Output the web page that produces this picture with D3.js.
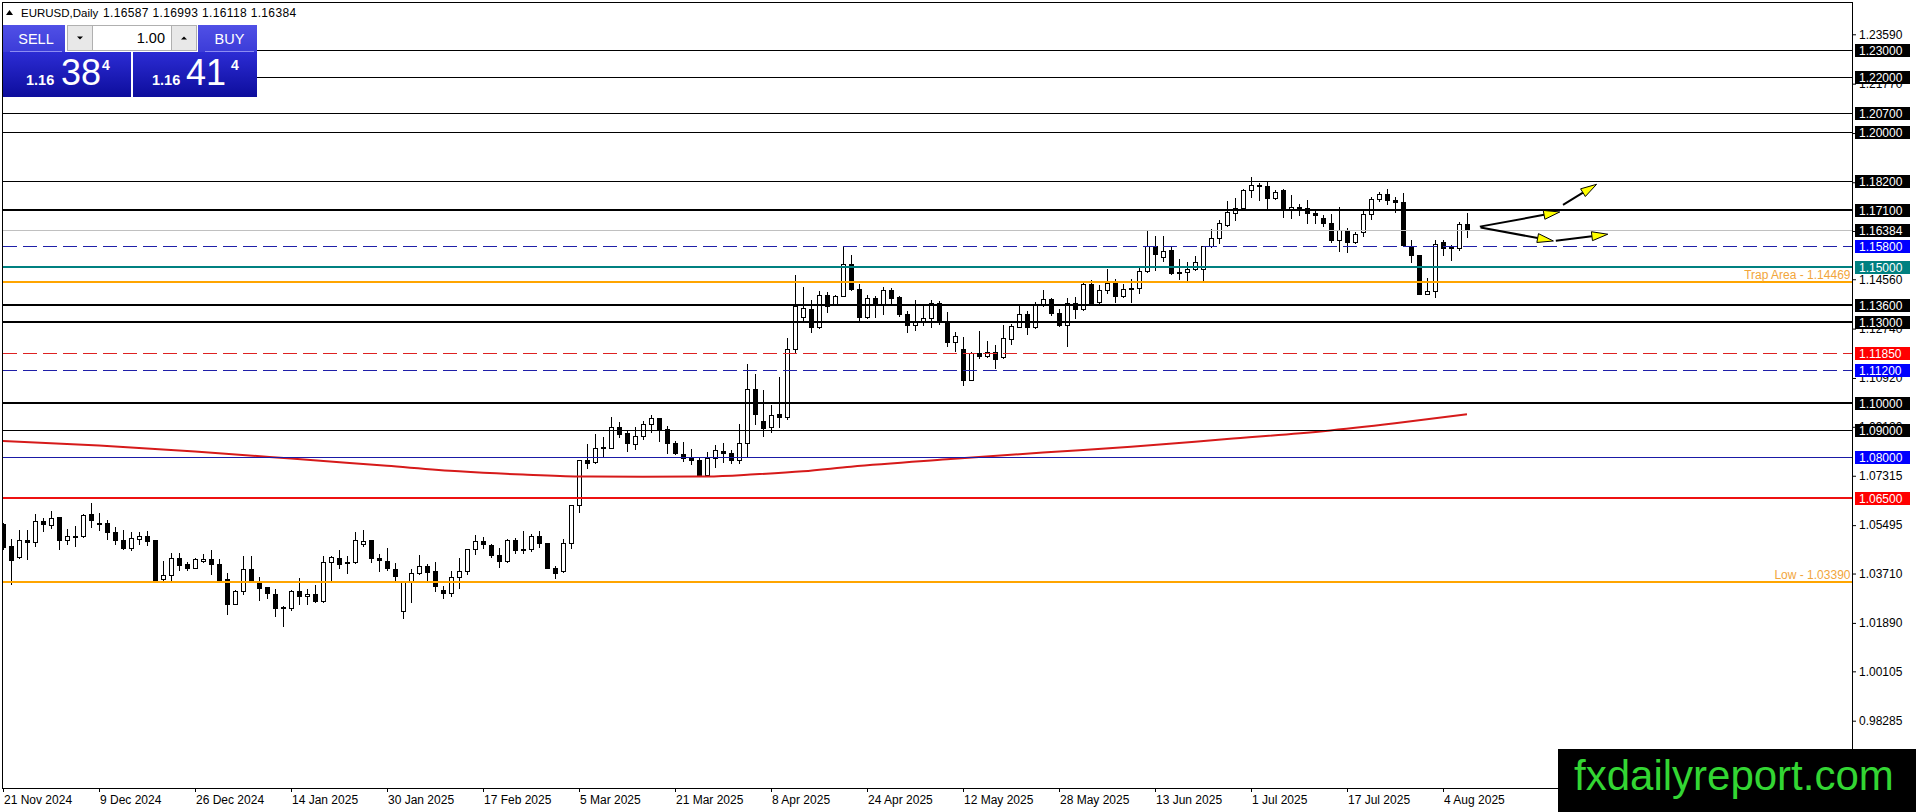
<!DOCTYPE html>
<html>
<head>
<meta charset="utf-8">
<script src="https://cdn.jsdelivr.net/npm/d3@7"></script>
<style>
  body { margin: 0; background: #fff; overflow: hidden; }
  svg { display: block; font-family: "Liberation Sans", Arial, sans-serif; }
</style>
</head>
<body>
<svg id="chart" width="1916" height="812"></svg>
<script>
// EURUSD daily candles, 21 Nov 2024 .. 7 Aug 2025 (bar index 0..183)
const opens = [
  1.0554,1.0474,1.0431,1.0496,1.0487,1.0566,1.0550,1.0579,1.0495,1.0509,
  1.0509,1.0589,1.0559,1.0557,1.0526,1.0495,1.0466,1.0499,1.0511,1.0493,
  1.0350,1.0366,1.0429,1.0407,1.0392,1.0419,1.0426,1.0407,1.0351,1.0259,
  1.0308,1.0388,1.0335,1.0321,1.0296,1.0244,1.0244,1.0308,1.0290,1.0296,
  1.0269,1.0415,1.0429,1.0409,1.0413,1.0480,1.0493,1.0430,1.0419,1.0388,
  1.0232,1.0343,1.0373,1.0398,1.0380,1.0310,1.0300,1.0357,1.0380,1.0460,
  1.0490,1.0478,1.0441,1.0419,1.0496,1.0463,1.0463,1.0511,1.0482,1.0392,
  1.0380,1.0482,1.0623,1.0789,1.0781,1.0838,1.0834,1.0913,1.0888,1.0849,
  1.0879,1.0922,1.0944,1.0904,1.0851,1.0812,1.0799,1.0790,1.0734,1.0797,
  1.0824,1.0815,1.0790,1.0852,1.1051,1.0935,1.0913,1.0959,1.0949,1.1199,
  1.1318,1.1346,1.1279,1.1398,1.1362,1.1396,1.1512,1.1420,1.1316,1.1387,
  1.1362,1.1418,1.1389,1.1328,1.1287,1.1301,1.1312,1.1369,1.1297,1.1223,
  1.1199,1.1085,1.1184,1.1172,1.1187,1.1168,1.1236,1.1281,1.1328,1.1279,
  1.1362,1.1383,1.1332,1.1289,1.1369,1.1346,1.1439,1.1371,1.1416,1.1442,
  1.1393,1.1425,1.1424,1.1488,1.1580,1.1537,1.1562,1.1479,1.1482,1.1494,
  1.1494,1.1577,1.1609,1.1657,1.1701,1.1719,1.1786,1.1805,1.1798,1.1756,
  1.1786,1.1712,1.1720,1.1719,1.1701,1.1681,1.1664,1.1599,1.1639,1.1593,
  1.1630,1.1695,1.1752,1.1771,1.1749,1.1740,1.1580,1.1546,1.1402,1.1414,
  1.1593,1.1577,1.1572,1.16587
];
const highs = [
  1.0557,1.0499,1.0530,1.0530,1.0591,1.0575,1.0600,1.0579,1.0536,1.0546,
  1.0591,1.0630,1.0595,1.0569,1.0542,1.0532,1.0526,1.0523,1.0527,1.0495,
  1.0419,1.0446,1.0446,1.0413,1.0428,1.0443,1.0458,1.0425,1.0372,1.0311,
  1.0434,1.0434,1.0357,1.0323,1.0313,1.0250,1.0311,1.0355,1.0313,1.0330,
  1.0434,1.0437,1.0458,1.0434,1.0523,1.0533,1.0495,1.0443,1.0464,1.0410,
  1.0343,1.0386,1.0441,1.0407,1.0413,1.0324,1.0380,1.0429,1.0463,1.0512,
  1.0505,1.0480,1.0466,1.0500,1.0503,1.0527,1.0515,1.0527,1.0484,1.0398,
  1.0500,1.0625,1.0790,1.0849,1.0886,1.0876,1.0949,1.0929,1.0898,1.0910,
  1.0932,1.0957,1.0946,1.0916,1.0861,1.0855,1.0830,1.0799,1.0818,1.0845,
  1.0851,1.0827,1.0922,1.1144,1.1107,1.1048,1.0994,1.1097,1.1239,1.1473,
  1.1426,1.1381,1.1414,1.1410,1.1398,1.1574,1.1545,1.1439,1.1398,1.1393,
  1.1426,1.1423,1.1393,1.1340,1.1381,1.1365,1.1381,1.1377,1.1337,1.1263,
  1.1242,1.1187,1.1266,1.1230,1.1214,1.1287,1.1291,1.1359,1.1340,1.1373,
  1.1418,1.1385,1.1346,1.1386,1.1392,1.1442,1.1455,1.1435,1.1494,1.1457,
  1.1439,1.1457,1.1500,1.1632,1.1617,1.1617,1.1580,1.1531,1.1519,1.1543,
  1.1580,1.1642,1.1673,1.1746,1.1756,1.1789,1.1832,1.1810,1.1814,1.1786,
  1.1789,1.1765,1.1734,1.1749,1.1707,1.1691,1.1697,1.1724,1.1644,1.1630,
  1.1716,1.1761,1.1777,1.1789,1.1761,1.1773,1.1599,1.1547,1.1461,1.1599,
  1.1599,1.1584,1.1666,1.16993
];
const lows = [
  1.0462,1.0333,1.0428,1.0424,1.0474,1.0527,1.0539,1.0461,1.0480,1.0474,
  1.0505,1.0542,1.0532,1.0498,1.0480,1.0461,1.0456,1.0480,1.0478,1.0345,
  1.0345,1.0345,1.0384,1.0384,1.0391,1.0413,1.0370,1.0343,1.0222,1.0257,
  1.0296,1.0339,1.0274,1.0281,1.0214,1.0178,1.0237,1.0259,1.0259,1.0265,
  1.0267,1.0345,1.0391,1.0373,1.0411,1.0474,1.0413,1.0382,1.0384,1.0349,
  1.0208,1.0267,1.0370,1.0349,1.0306,1.0281,1.0290,1.0316,1.0370,1.0444,
  1.0466,1.0431,1.0396,1.0414,1.0447,1.0447,1.0453,1.0468,1.0390,1.0355,
  1.0378,1.0466,1.0598,1.0761,1.0779,1.0802,1.0832,1.0873,1.0824,1.0830,
  1.0867,1.0892,1.0858,1.0814,1.0812,1.0785,1.0775,1.0730,1.0732,1.0763,
  1.0781,1.0779,1.0777,1.0806,1.0922,1.0879,1.0892,1.0910,1.0941,1.1187,
  1.1297,1.1263,1.1277,1.1334,1.1360,1.1394,1.1418,1.1303,1.1312,1.1316,
  1.1328,1.1369,1.1319,1.1263,1.1270,1.1289,1.1279,1.1291,1.1209,1.1193,
  1.1066,1.1083,1.1166,1.1168,1.1128,1.1166,1.1217,1.1279,1.1254,1.1276,
  1.1359,1.1324,1.1285,1.1209,1.1312,1.1344,1.1365,1.1361,1.1404,1.1371,
  1.1389,1.1371,1.1404,1.1484,1.1491,1.1525,1.1476,1.1457,1.1454,1.1491,
  1.1454,1.1574,1.1589,1.1652,1.1676,1.1712,1.1759,1.1749,1.1719,1.1751,
  1.1685,1.1682,1.1691,1.1664,1.1664,1.1654,1.1593,1.1559,1.1556,1.1590,
  1.1617,1.1679,1.1746,1.1734,1.1703,1.1580,1.1519,1.1400,1.1400,1.1390,
  1.1547,1.1527,1.1564,1.16118
];
const closes = [
  1.0468,1.0422,1.0495,1.0488,1.0566,1.0554,1.0576,1.0493,1.0511,1.0511,
  1.0587,1.0569,1.0554,1.0523,1.0493,1.0464,1.0503,1.0511,1.0490,1.0348,
  1.0366,1.0429,1.0403,1.0392,1.0423,1.0426,1.0407,1.0348,1.0259,1.0308,
  1.0388,1.0345,1.0318,1.0300,1.0244,1.0247,1.0308,1.0287,1.0296,1.0269,
  1.0415,1.0431,1.0407,1.0415,1.0493,1.0491,1.0428,1.0422,1.0391,1.0362,
  1.0340,1.0373,1.0398,1.0377,1.0324,1.0300,1.0357,1.0380,1.0460,1.0490,
  1.0480,1.0441,1.0419,1.0496,1.0456,1.0460,1.0511,1.0484,1.0392,1.0373,
  1.0482,1.0623,1.0788,1.0779,1.0832,1.0833,1.0913,1.0886,1.0851,1.0879,
  1.0922,1.0944,1.0902,1.0851,1.0815,1.0797,1.0790,1.0732,1.0797,1.0827,
  1.0814,1.0790,1.0852,1.1051,1.0959,1.0908,1.0956,1.0949,1.1199,1.1359,
  1.1350,1.1279,1.1398,1.1359,1.1396,1.1512,1.1420,1.1316,1.1387,1.1362,
  1.1418,1.1386,1.1328,1.1289,1.1297,1.1313,1.1369,1.1301,1.1223,1.1248,
  1.1085,1.1184,1.1172,1.1187,1.1162,1.1238,1.1285,1.1328,1.1279,1.1362,
  1.1383,1.1330,1.1289,1.1367,1.1346,1.1439,1.1367,1.1416,1.1442,1.1393,
  1.1420,1.1421,1.1488,1.1580,1.1549,1.1561,1.1478,1.1482,1.1494,1.1521,
  1.1577,1.1609,1.1663,1.1703,1.1719,1.1786,1.1805,1.1798,1.1756,1.1779,
  1.1712,1.1722,1.1724,1.1701,1.1691,1.1663,1.1599,1.1638,1.1593,1.1623,
  1.1695,1.1752,1.1771,1.1749,1.1740,1.1584,1.1546,1.1402,1.1414,1.1587,
  1.1572,1.1572,1.1660,1.16384
];

// moving average (bar index, value)
const maBars   = [0, 12, 24, 36, 48, 57, 65, 72, 80, 88, 94, 100, 106, 118, 130, 141, 153, 165, 174, 183];
const maValues = [1.0860, 1.0843, 1.0821, 1.0795, 1.0768, 1.0748, 1.0736, 1.0729, 1.0728, 1.0729,
                  1.0737, 1.0748, 1.0765, 1.0792, 1.0817, 1.0838, 1.0867, 1.0896, 1.0925, 1.0958];

// date labels every 12 bars
const dateLabels = ["21 Nov 2024", "9 Dec 2024", "26 Dec 2024", "14 Jan 2025", "30 Jan 2025", "17 Feb 2025",
  "5 Mar 2025", "21 Mar 2025", "8 Apr 2025", "24 Apr 2025", "12 May 2025", "28 May 2025",
  "13 Jun 2025", "1 Jul 2025", "17 Jul 2025", "4 Aug 2025"];
const dateBars = [0, 12, 24, 36, 48, 60, 72, 84, 96, 108, 120, 132, 144, 156, 168, 180];

// price scale tick labels
const priceTicks = [1.23590, 1.21770, 1.19950, 1.18135, 1.16340, 1.14560, 1.12740, 1.10920,
  1.09120, 1.07315, 1.05495, 1.03710, 1.01890, 1.00105, 0.98285];

// horizontal levels
const levelPrices = [1.23, 1.22, 1.207, 1.20, 1.182, 1.171, 1.16384, 1.158, 1.15, 1.14469,
  1.136, 1.13, 1.1185, 1.112, 1.10, 1.09, 1.08, 1.065, 1.0339];
const levelKinds = ["thin", "thin", "thin", "thin", "thin", "thick", "bid", "blueDash", "teal", "trap",
  "thick", "thick", "redDash", "blueDash", "thick", "thin", "blue", "red", "low"];
const levelNotes = ["", "", "", "", "", "", "", "", "", "Trap Area - 1.14469",
  "", "", "", "", "", "", "", "", "Low - 1.03390"];

// trend arrows [fromBar, fromPrice] -> [toBar, toPrice]
const arrowFrom = [[184.6, 1.1650], [195.0, 1.1730], [184.7, 1.1647], [194.1, 1.1598]];
const arrowTo   = [[194.6, 1.1704], [199.2, 1.1806], [193.8, 1.1597], [200.6, 1.1622]];

const header = {symbol: "EURUSD,Daily", ohlc: "1.16587 1.16993 1.16118 1.16384"};
const sellQuote = ["1.16", "38", "4"];
const buyQuote  = ["1.16", "41", "4"];
const lotSize = "1.00";

// ---------------------------------------------------------------
const levelStyle = {
  thin:     {stroke: "#000",    width: 1, dash: null,   box: "#000"},
  thick:    {stroke: "#000",    width: 2, dash: null,   box: "#000"},
  bid:      {stroke: "#c0c0c0", width: 1, dash: null,   box: "#000"},
  blueDash: {stroke: "#1f1fa8", width: 1, dash: "14,6", box: "#0000ff"},
  teal:     {stroke: "#008080", width: 2, dash: null,   box: "#008080"},
  trap:     {stroke: "#ffa500", width: 2, dash: null,   box: null},
  redDash:  {stroke: "#dd2222", width: 1, dash: "14,6", box: "#ff0000"},
  blue:     {stroke: "#1a1aa6", width: 1, dash: null,   box: "#0000ff"},
  red:      {stroke: "#ee1111", width: 2, dash: null,   box: "#ff0000"},
  low:      {stroke: "#ffa500", width: 2, dash: null,   box: null}
};

const plotLeft = 2.5, plotTop = 2.5, plotRight = 1852.5, plotBottom = 788.5;

let svg = d3.select("#chart");

let x = d3.scaleLinear().domain([0, 100]).range([3, 803]);       // 8 px per bar
let y = d3.scaleLinear().domain([1.23, 0.98285]).range([50.3, 720.7]);

svg.append("defs").append("clipPath").attr("id", "plotClip")
  .append("rect").attr("x", plotLeft).attr("y", plotTop)
  .attr("width", plotRight - plotLeft).attr("height", plotBottom - plotTop);

let plot = svg.append("g").attr("clip-path", "url(#plotClip)");

// candles
let candles = d3.range(opens.length).map(i => ({i: i, o: opens[i], h: highs[i], l: lows[i], c: closes[i]}));
let cg = plot.append("g").attr("shape-rendering", "crispEdges");
let bar = cg.selectAll("g").data(candles).join("g");
bar.append("line")
  .attr("x1", d => Math.round(x(d.i)) + 0.5)
  .attr("x2", d => Math.round(x(d.i)) + 0.5)
  .attr("y1", d => Math.round(y(d.h)))
  .attr("y2", d => Math.round(y(d.l)) + 1)
  .attr("stroke", "#000");
bar.append("rect")
  .attr("x", d => Math.round(x(d.i)) - 1.5)
  .attr("y", d => Math.round(y(Math.max(d.o, d.c))) + 0.5)
  .attr("width", 4)
  .attr("height", d => Math.max(1, Math.round(y(Math.min(d.o, d.c))) - Math.round(y(Math.max(d.o, d.c)))))
  .attr("fill", d => d.c >= d.o ? "#fff" : "#000")
  .attr("stroke", "#000");

// moving average
let maData = maBars.map((b, k) => ({b: b, v: maValues[k]}));
plot.append("path")
  .datum(maData)
  .attr("fill", "none")
  .attr("stroke", "#d61a1a")
  .attr("stroke-width", 2)
  .attr("d", d3.line().x(d => x(d.b)).y(d => y(d.v)).curve(d3.curveMonotoneX));

// horizontal levels
let levels = levelPrices.map((p, k) => ({p: p, kind: levelKinds[k], note: levelNotes[k]}));
let lineY = d => {
  let s = levelStyle[d.kind];
  return s.width % 2 === 1 ? Math.round(y(d.p)) + 0.5 : Math.round(y(d.p));
};
plot.append("g").attr("shape-rendering", "crispEdges")
  .selectAll("line").data(levels).join("line")
  .attr("x1", plotLeft).attr("x2", plotRight)
  .attr("y1", lineY).attr("y2", lineY)
  .attr("stroke", d => levelStyle[d.kind].stroke)
  .attr("stroke-width", d => levelStyle[d.kind].width)
  .attr("stroke-dasharray", d => levelStyle[d.kind].dash);

plot.append("g")
  .selectAll("text").data(levels.filter(d => d.note)).join("text")
  .attr("x", plotRight - 2)
  .attr("y", d => Math.round(y(d.p)) - 3)
  .attr("text-anchor", "end")
  .attr("font-size", 12)
  .attr("fill", "#f2a53a")
  .text(d => d.note);

// arrows
let arrows = arrowFrom.map((f, k) => ({x1: x(f[0]), y1: y(f[1]), x2: x(arrowTo[k][0]), y2: y(arrowTo[k][1])}));
let ag = plot.append("g");
arrows.forEach(a => {
  let dx = a.x2 - a.x1, dy = a.y2 - a.y1, len = Math.hypot(dx, dy);
  let ux = dx / len, uy = dy / len, head = 16, half = 4.5;
  let bx = a.x2 - ux * head, by = a.y2 - uy * head;
  ag.append("line")
    .attr("x1", a.x1).attr("y1", a.y1).attr("x2", bx).attr("y2", by)
    .attr("stroke", "#000").attr("stroke-width", 2);
  ag.append("path")
    .attr("d", `M${a.x2},${a.y2}L${bx - uy * half},${by + ux * half}L${bx + uy * half},${by - ux * half}Z`)
    .attr("fill", "#ffff00").attr("stroke", "#000").attr("stroke-width", 1);
});

// frame
svg.append("path")
  .attr("d", `M${plotLeft},${plotBottom}V${plotTop}H${plotRight}V${plotBottom}H${plotLeft}`)
  .attr("fill", "none").attr("stroke", "#000").attr("shape-rendering", "crispEdges");

// price axis
let yAxis = svg.append("g")
  .attr("transform", `translate(${plotRight - 0.5},0)`)
  .call(d3.axisRight(y).tickValues(priceTicks).tickSize(4).tickPadding(3).tickFormat(d3.format(".5f")));
yAxis.select(".domain").remove();
yAxis.attr("font-family", null).attr("font-size", 12);
yAxis.selectAll("text").attr("fill", "#000");

// level price boxes
let boxes = svg.append("g").selectAll("g").data(levels.filter(d => levelStyle[d.kind].box)).join("g")
  .attr("transform", d => `translate(1855,${Math.round(y(d.p))})`);
boxes.append("rect")
  .attr("x", 0).attr("y", -6).attr("width", 55).attr("height", 13)
  .attr("fill", d => levelStyle[d.kind].box);
boxes.append("text")
  .attr("x", 4).attr("y", 5)
  .attr("font-size", 12).attr("fill", "#fff")
  .text(d => d.p.toFixed(5));

// time axis
let xAxis = svg.append("g")
  .attr("transform", `translate(0,${plotBottom - 0.5})`)
  .call(d3.axisBottom(x).tickValues(dateBars).tickSize(4).tickPadding(3).tickFormat((d, k) => dateLabels[k]));
xAxis.select(".domain").remove();
xAxis.attr("font-family", null).attr("font-size", 12);
xAxis.selectAll("text").attr("text-anchor", "start").attr("x", 0.5).attr("fill", "#000");

// header
let hd = svg.append("g");
hd.append("path").attr("d", "M6,15L9.5,10L13,15Z").attr("fill", "#000");
hd.append("text").attr("x", 21).attr("y", 17).attr("font-size", 11.5).text(header.symbol);
hd.append("text").attr("x", 103).attr("y", 17).attr("font-size", 12).attr("letter-spacing", 0.35).text(header.ohlc);

// one-click trading panel
let defs = svg.select("defs");
let g1 = defs.append("linearGradient").attr("id", "btnGrad").attr("x1", 0).attr("x2", 0).attr("y1", 0).attr("y2", 1);
g1.append("stop").attr("offset", 0).attr("stop-color", "#5050e6");
g1.append("stop").attr("offset", 1).attr("stop-color", "#3c3cd8");
let g2 = defs.append("linearGradient").attr("id", "quoteGrad").attr("x1", 0).attr("x2", 0).attr("y1", 0).attr("y2", 1);
g2.append("stop").attr("offset", 0).attr("stop-color", "#2c2cd4");
g2.append("stop").attr("offset", 1).attr("stop-color", "#0d0d9c");

let panel = svg.append("g");
panel.append("rect").attr("x", 3).attr("y", 25).attr("width", 254).attr("height", 72).attr("fill", "#fff");
// SELL / BUY buttons
[[3, 62, "SELL"], [198, 59, "BUY"]].forEach(b => {
  panel.append("rect").attr("x", b[0]).attr("y", 25).attr("width", b[1]).attr("height", 27).attr("fill", "url(#btnGrad)");
  panel.append("line").attr("x1", b[0] + 7).attr("x2", b[0] + b[1] - 3).attr("y1", 51.5).attr("y2", 51.5)
    .attr("stroke", "#8c8cf2");
  panel.append("text").attr("x", b[0] + b[1] / 2 + 2).attr("y", 44).attr("text-anchor", "middle")
    .attr("font-size", 14.5).attr("fill", "#fff").text(b[2]);
});
// lot spinner
panel.append("rect").attr("x", 67.5).attr("y", 25.5).attr("width", 129).attr("height", 25)
  .attr("fill", "#fff").attr("stroke", "#b0b0b0");
panel.append("rect").attr("x", 67.5).attr("y", 25.5).attr("width", 25).attr("height", 25)
  .attr("fill", "#e8e8e8").attr("stroke", "#b0b0b0");
panel.append("rect").attr("x", 171.5).attr("y", 25.5).attr("width", 25).attr("height", 25)
  .attr("fill", "#e8e8e8").attr("stroke", "#b0b0b0");
panel.append("path").attr("d", "M77,36.5L83,36.5L80,39.5Z").attr("fill", "#000");
panel.append("path").attr("d", "M181,39.5L187,39.5L184,36.5Z").attr("fill", "#000");
panel.append("text").attr("x", 165).attr("y", 43).attr("text-anchor", "end")
  .attr("font-size", 14.5).attr("fill", "#000").text(lotSize);
// quote boxes
[[3, 128, sellQuote, 26, 61, 102], [133, 124, buyQuote, 152, 186, 231]].forEach(q => {
  panel.append("rect").attr("x", q[0]).attr("y", 52).attr("width", q[1]).attr("height", 45).attr("fill", "url(#quoteGrad)");
  panel.append("text").attr("x", q[3]).attr("y", 85).attr("font-size", 14.5).attr("font-weight", "bold")
    .attr("fill", "#fff").text(q[2][0]);
  panel.append("text").attr("x", q[4]).attr("y", 85).attr("font-size", 36)
    .attr("fill", "#fff").text(q[2][1]);
  panel.append("text").attr("x", q[5]).attr("y", 70).attr("font-size", 14).attr("font-weight", "bold")
    .attr("fill", "#fff").text(q[2][2]);
});

// watermark
let wm = svg.append("g");
wm.append("rect").attr("x", 1558).attr("y", 749).attr("width", 358).attr("height", 63).attr("fill", "#000");
wm.append("text").attr("x", 1574).attr("y", 790).attr("font-size", 42)
  .attr("fill", "#33d633").text("fxdailyreport.com");
</script>
</body>
</html>
